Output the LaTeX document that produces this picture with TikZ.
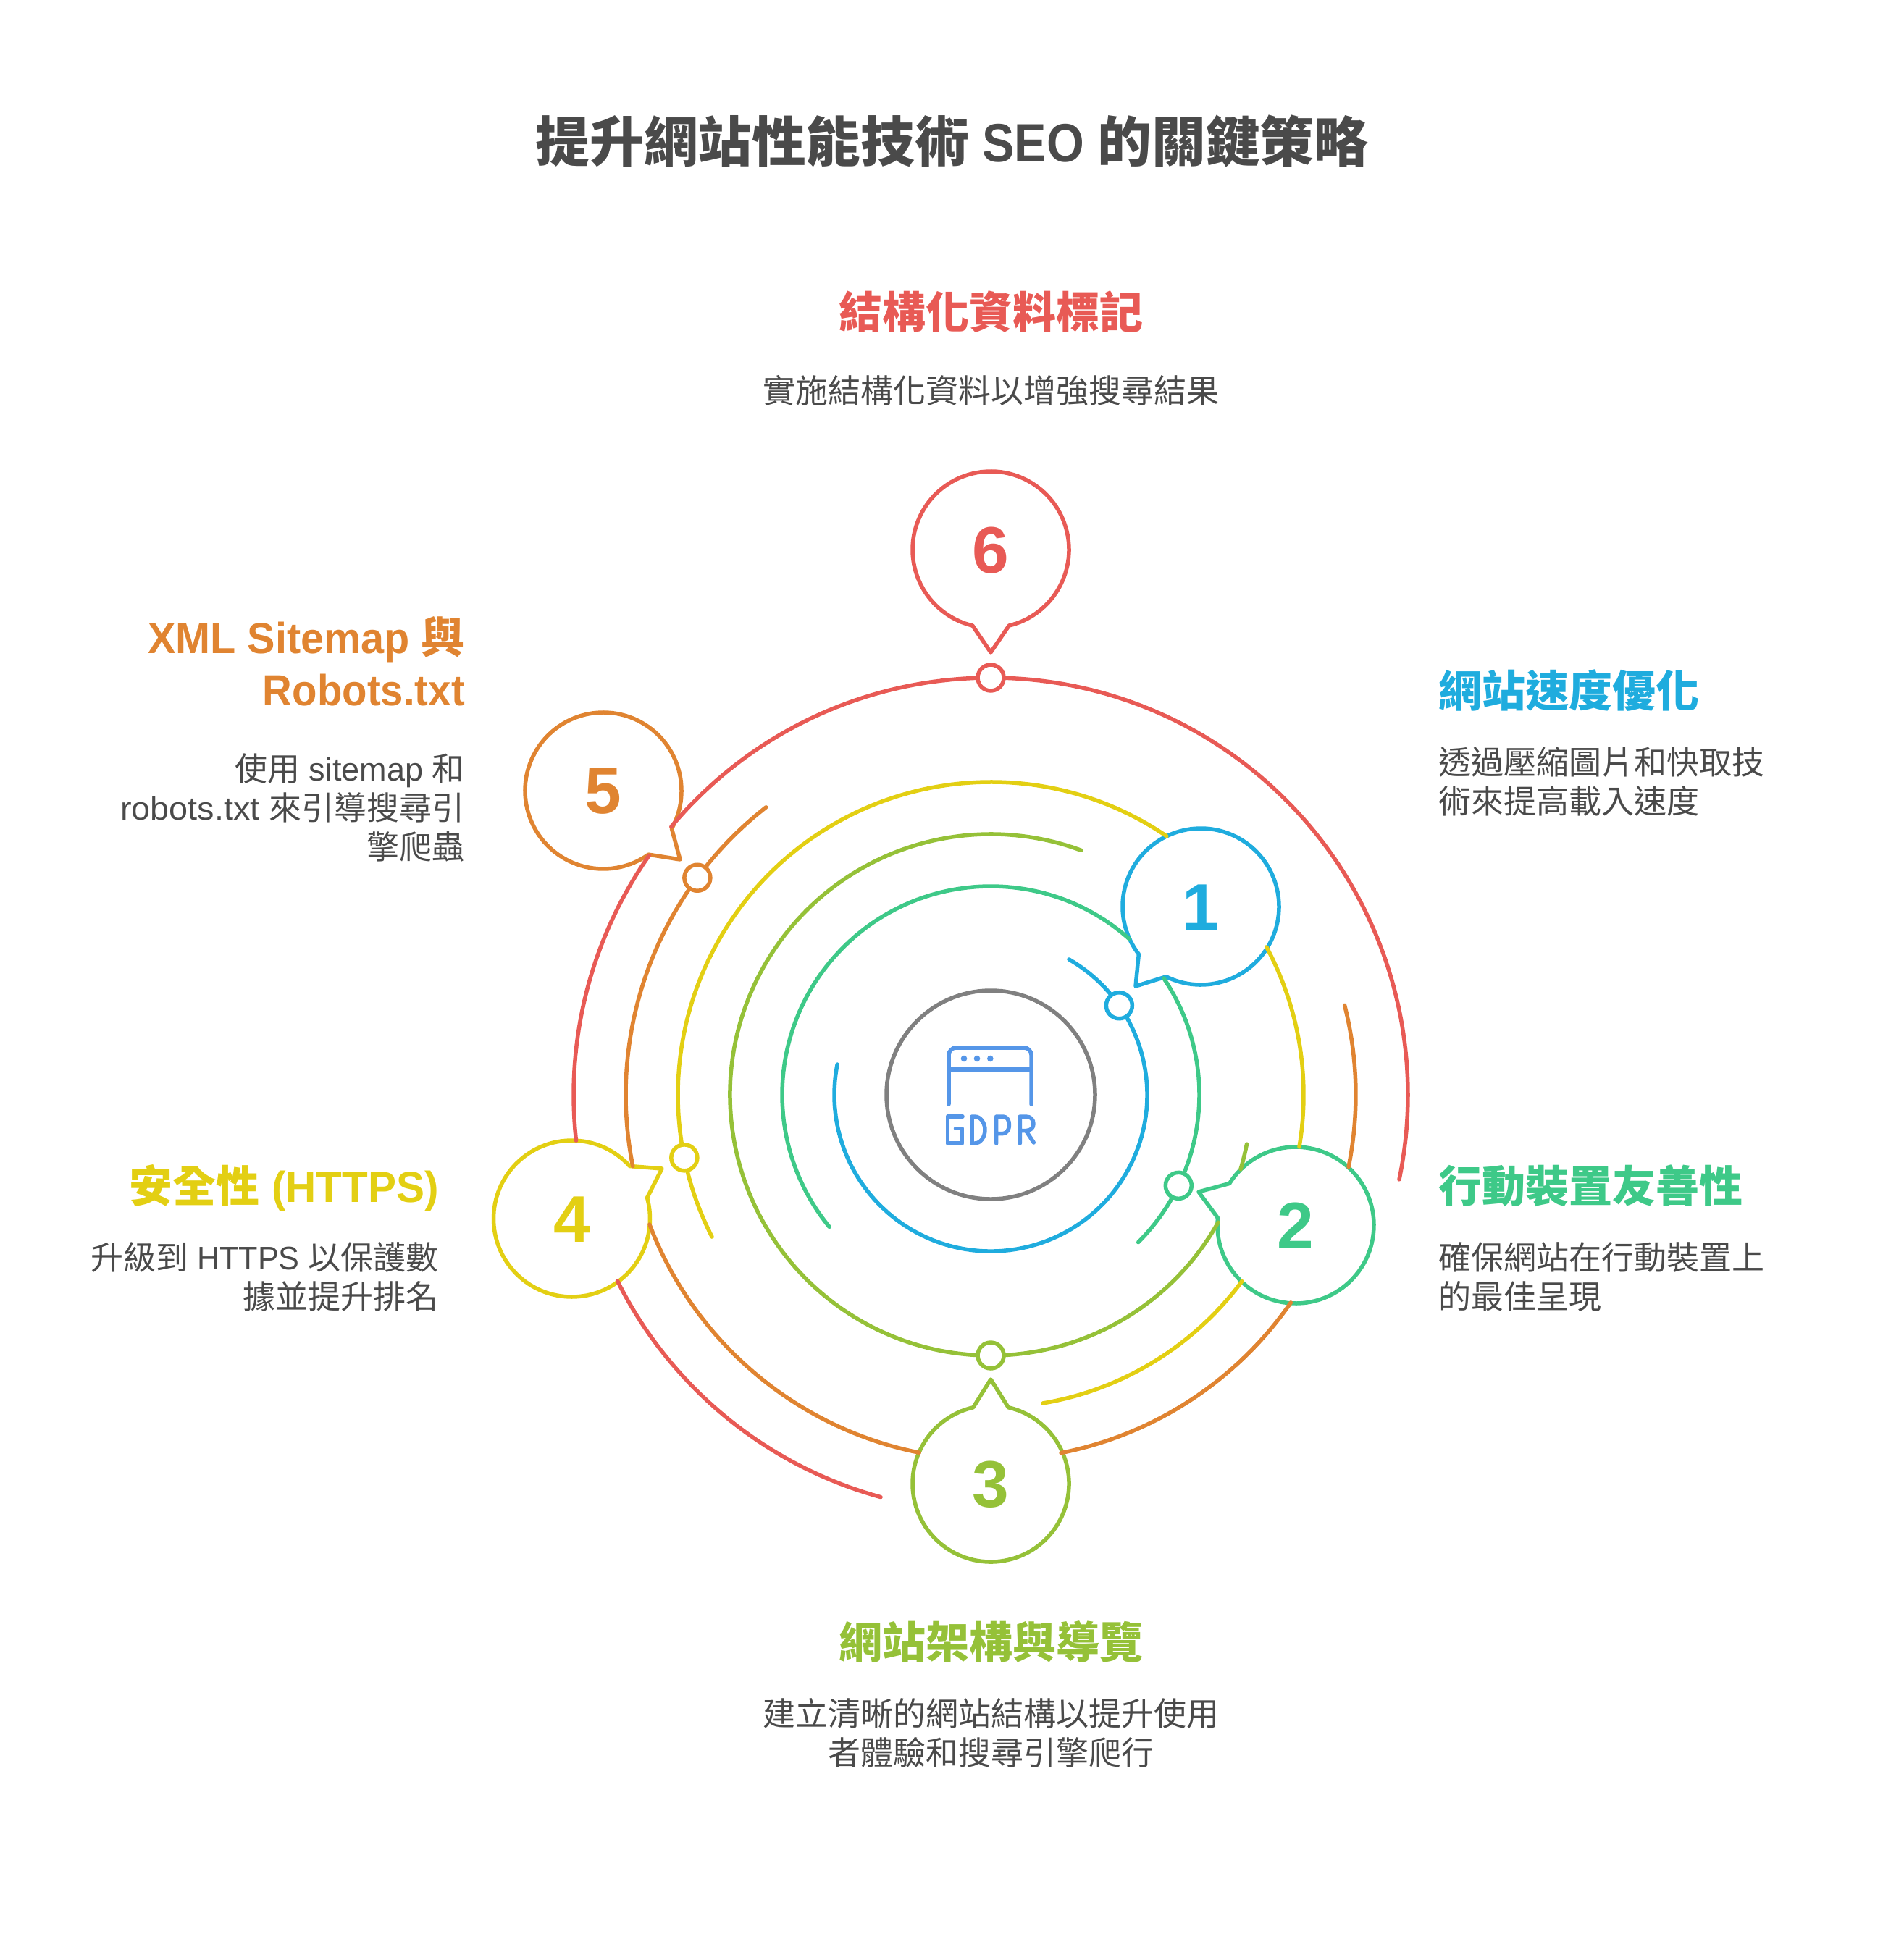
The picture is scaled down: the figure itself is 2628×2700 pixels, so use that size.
\documentclass[tikz,border=0pt]{standalone}
\usepackage{fontspec}
\setmainfont{Noto Sans CJK TC}
\newfontfamily\latfont[FakeStretch=0.96]{Liberation Sans}
\newfontfamily\latmid[FakeStretch=0.94]{Liberation Sans}
\newfontfamily\latheavy[FakeStretch=0.975]{Liberation Sans}
\newfontfamily\latwide[FakeStretch=1.04]{Liberation Sans}
\newfontfamily\latnarrow[FakeStretch=0.89]{Liberation Sans}
\newfontfamily\numfont{Liberation Sans}
\newcommand{\latn}[1]{{\latfont #1}}
\newcommand{\latw}[1]{{\latwide #1}}
\definecolor{cblue}{RGB}{31,172,222}
\definecolor{cgreen}{RGB}{62,201,136}
\definecolor{colive}{RGB}{149,193,56}
\definecolor{cyellow}{RGB}{227,207,19}
\definecolor{corange}{RGB}{224,132,49}
\definecolor{cred}{RGB}{232,90,85}
\definecolor{cgray}{RGB}{128,128,128}
\definecolor{ctext}{RGB}{74,74,74}
\definecolor{cicon}{RGB}{85,150,232}
\tikzset{
  x=1pt,y=1pt,
  ringarc/.style={line width=5.5pt,line cap=round,line join=round},
  dotnode/.style={circle,draw=#1,fill=white,line width=5.5pt,minimum size=36pt,inner sep=0pt,outer sep=0pt},
  bubbleline/.style={draw=#1,fill=white,line width=5.5pt,line join=round},
  digitnode/.style={text=#1,inner sep=0pt,yshift=-1pt,font=\fontsize{91}{91}\numfont\bfseries},
  headleft/.style={text=#1,inner sep=0pt,align=left,anchor=base west,font=\fontsize{60}{72}\selectfont\bfseries},
  headright/.style={text=#1,inner sep=0pt,align=right,anchor=base east,font=\fontsize{60}{72}\selectfont\bfseries},
  headmid/.style={text=#1,inner sep=0pt,align=center,anchor=base,font=\fontsize{60}{72}\selectfont\bfseries},
  descleft/.style={text=ctext,inner sep=0pt,align=left,anchor=base west,font=\fontsize{45}{54}\selectfont},
  descright/.style={text=ctext,inner sep=0pt,align=right,anchor=base east,font=\fontsize{45}{54}\selectfont},
  descmid/.style={text=ctext,inner sep=0pt,align=center,anchor=base,font=\fontsize{45}{54}\selectfont},
  iconline/.style={draw=cicon,line width=5.5pt,line cap=round,line join=round},
}
% ring segment: colour, radius, start angle, end angle
\newcommand{\ringseg}[4]{\draw[ringarc,draw=#1] ([shift={(#3:#2pt)}]c.center) arc[start angle=#3,end angle=#4,radius=#2pt];}
% bubble: name, colour, centre, arc start, arc end, tip, digit
\newcommand{\bubblenode}[7]{%
  \coordinate (#1c) at (#3);
  \draw[bubbleline=#2] ([shift={(#4:108pt)}]#1c) arc[start angle=#4,end angle=#5,radius=108pt] -- (#6) -- cycle;
  \node[digitnode=#2] (#1) at (#1c) {#7};
}
\newcommand{\ringdot}[4]{\node[dotnode=#2] (#1) at ([shift={(#4:#3pt)}]c.center) {};}
\begin{document}
\begin{tikzpicture}
\useasboundingbox (0,0) rectangle (2628,-2700);
\node[circle,draw=cgray,line width=5.5pt,minimum size=288pt,inner sep=0pt,outer sep=0pt] (c) at (1368,-1512) {};

% bubbles
\bubblenode{bone}{cblue}{1658,-1252}{243.7}{577.5}{1568,-1362}{1}
\bubblenode{btwo}{cgreen}{1789,-1692}{174.7}{507.8}{1655,-1646}{2}
\bubblenode{bthree}{colive}{1368,-2049}{103}{437}{1368,-1905}{3}
\bubblenode{bfour}{cyellow}{789.5,-1683}{42.2}{375.5}{914,-1614}{4}
\bubblenode{bfive}{corange}{833,-1092}{-29}{305.3}{939,-1187}{5}
\bubblenode{bsix}{cred}{1368,-759}{283.5}{616.5}{1368,-901}{6}

% rings
\ringseg{cblue}{216}{60}{-191.2}
\ringseg{cgreen}{288}{-45}{34}
\ringseg{cgreen}{288}{48.5}{219.3}
\ringseg{colive}{360}{-10.9}{-16.6}
\ringseg{colive}{360}{-29.3}{-290.3}
\ringseg{cyellow}{432}{-80.4}{-36.6}
\ringseg{cyellow}{432}{-9.6}{28.2}
\ringseg{cyellow}{432}{55.8}{207}
\ringseg{corange}{504}{14.2}{-11.4}
\ringseg{corange}{504}{-34.7}{-78.9}
\ringseg{corange}{504}{-101.3}{-159.2}
\ringseg{corange}{504}{-168.7}{-232}
\ringseg{cred}{576}{-105.3}{-153.5}
\ringseg{cred}{576}{-173.7}{-215}
\ringseg{cred}{576}{-220}{-371.7}

% ring dots
\ringdot{done}{cblue}{216}{34.8}
\ringdot{dtwo}{cgreen}{288}{-25.8}
\ringdot{dthree}{colive}{360}{-90}
\ringdot{dfour}{cyellow}{432}{191.6}
\ringdot{dfive}{corange}{504}{143.5}
\ringdot{dsix}{cred}{576}{90}

% centre icon
\draw[iconline] (1310,-1525) -- (1310,-1457) arc[start angle=180,end angle=90,radius=10pt] -- (1414,-1447) arc[start angle=90,end angle=0,radius=10pt] -- (1424,-1525);
\draw[iconline] (1310,-1477) -- (1424,-1477);
\fill[cicon] (1331,-1462) circle[radius=4.3pt] (1349,-1462) circle[radius=4.3pt] (1367.3,-1462) circle[radius=4.3pt];
\draw[iconline] (1329,-1542) -- (1308.5,-1542) -- (1308.5,-1579) -- (1328.5,-1579) -- (1328.5,-1558.5) -- (1319.5,-1558.5);
\draw[iconline] (1342,-1542) -- (1342,-1579) -- (1346,-1579) .. controls (1354,-1579) and (1360,-1570) .. (1360,-1560.5) .. controls (1360,-1551) and (1354,-1542) .. (1346,-1542) -- cycle;
\draw[iconline] (1375.7,-1579) -- (1375.7,-1542) -- (1385,-1542) .. controls (1390,-1542) and (1393.5,-1547) .. (1393.5,-1553.5) .. controls (1393.5,-1560) and (1390,-1565.5) .. (1385,-1565.5) -- (1375.7,-1565.5);
\draw[iconline] (1408.3,-1579) -- (1408.3,-1542) -- (1416.5,-1542) .. controls (1423,-1542) and (1427,-1546) .. (1427,-1552) .. controls (1427,-1558) and (1423,-1561.5) .. (1416.5,-1561.5) -- (1408.3,-1561.5);
\draw[iconline] (1416.5,-1561.5) -- (1427.3,-1578);

% title
\node[text=ctext,inner sep=0pt,anchor=base,font=\fontsize{74.8}{90}\selectfont\bfseries] (title) at (1314.5,-223) {提升網站性能技術{\latnarrow\ SEO\ }的關鍵策略};

% labels
\node[headmid=cred] (h6) at (1368,-453) {結構化資料標記};
\node[descmid] (d6) at (1368,-556) {實施結構化資料以增強搜尋結果};
\node[headleft=cblue] (h1) at (1986,-976) {網站速度優化};
\node[descleft] (d1) at (1986,-1123) {透過壓縮圖片和快取技\\術來提高載入速度};
\node[headleft=cgreen] (h2) at (1986,-1660) {行動裝置友善性};
\node[descleft] (d2) at (1986,-1807) {確保網站在行動裝置上\\的最佳呈現};
\node[headmid=colive] (h3) at (1368,-2290) {網站架構與導覽};
\node[descmid] (d3) at (1368,-2437) {建立清晰的網站結構以提升使用\\者體驗和搜尋引擎爬行};
\node[headright=cyellow] (h4) at (606,-1660) {安全性{\latheavy\ (HTTPS)}};
\node[descright] (d4) at (606,-1807) {升級到\latn{ HTTPS }以保護數\\據並提升排名};
\node[headright=corange] (h5) at (642,-974) {\latn{XML Sitemap }與\\{\latmid Robots.txt}};
\node[descright] (d5) at (642,-1186) {使用{\numfont\ sitemap\ }和\\\latw{robots.txt }來引導搜尋引\\擎爬蟲};
\end{tikzpicture}
\end{document}
